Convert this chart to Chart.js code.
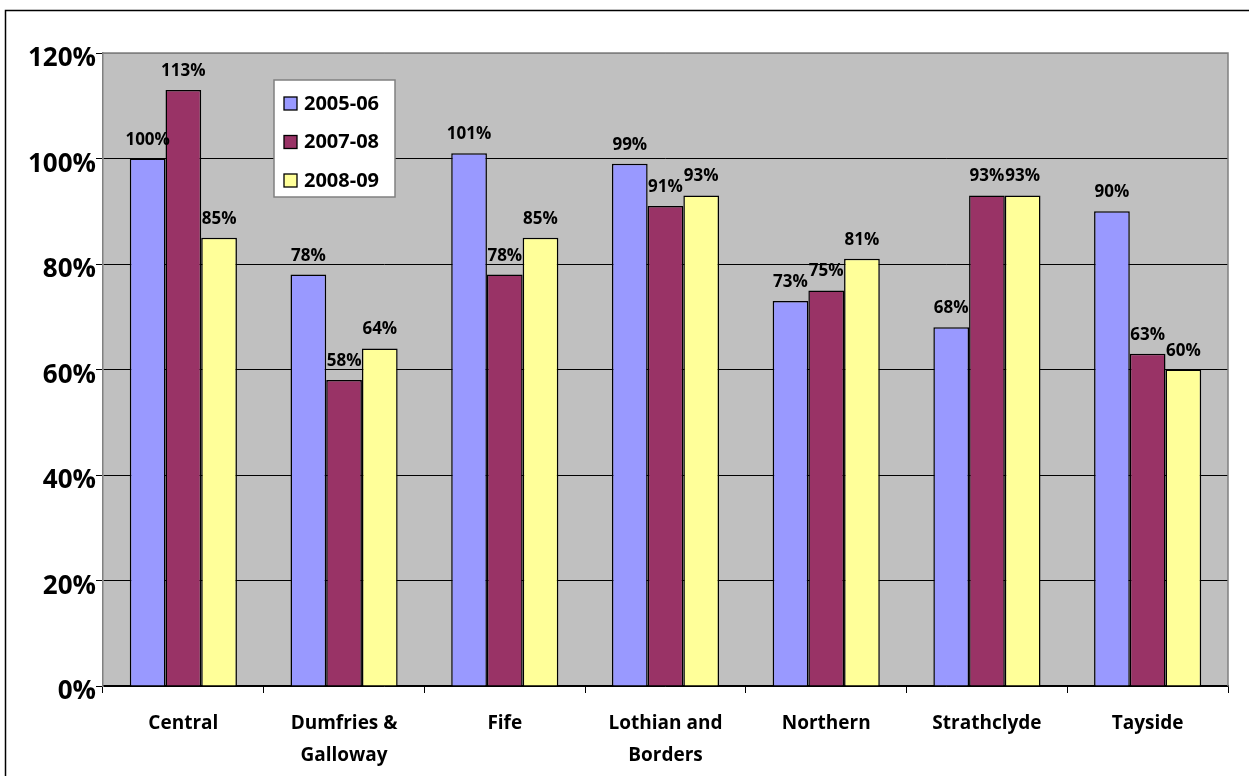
<!DOCTYPE html>
<html>
<head>
<meta charset="utf-8">
<script src="https://cdn.jsdelivr.net/npm/chart.js@4.4.1/dist/chart.umd.min.js"></script>
<style>
  html, body { margin: 0; padding: 0; background: #fff; }
  canvas { display: block; }
</style>
</head>
<body>
<canvas id="c" width="1249" height="776"></canvas>
<script>
// Regions and yearly percentages
const regions = ["Central", ["Dumfries &", "Galloway"], "Fife", ["Lothian and", "Borders"], "Northern", "Strathclyde", "Tayside"];
const seriesNames = ["2005-06", "2007-08", "2008-09"];
const values0506 = [100, 78, 101, 99, 73, 68, 90];
const values0708 = [113, 58, 78, 91, 75, 93, 63];
const values0809 = [85, 64, 85, 93, 81, 93, 60];
const yTicks = [0, 20, 40, 60, 80, 100, 120];

const FONT = "'Open Sans', Lato, sans-serif";
const colors = ["#9999FF", "#993366", "#FFFF99"];
const seriesValues = [values0506, values0708, values0809];

// Frame lines, grey plot background and top/right plot border
const framePlugin = {
  id: "frame",
  beforeDraw(chart) {
    const ctx = chart.ctx, a = chart.chartArea;
    ctx.save();
    ctx.fillStyle = "#fff";
    ctx.fillRect(0, 0, chart.width, chart.height);
    ctx.strokeStyle = "#000";
    ctx.lineWidth = 1.5;
    ctx.beginPath();
    ctx.moveTo(5.5, chart.height + 5);
    ctx.lineTo(5.5, 10.5);
    ctx.lineTo(chart.width + 5, 10.5);
    ctx.stroke();
    ctx.fillStyle = "#C0C0C0";
    ctx.fillRect(a.left, a.top, a.right - a.left, a.bottom - a.top);
    ctx.restore();
  },
  afterDraw(chart) {
    const ctx = chart.ctx, a = chart.chartArea;
    ctx.save();
    ctx.strokeStyle = "#808080";
    ctx.lineWidth = 1.5;
    ctx.beginPath();
    ctx.moveTo(a.left, a.top);
    ctx.lineTo(a.right, a.top);
    ctx.lineTo(a.right, a.bottom);
    ctx.stroke();
    ctx.restore();
  }
};

// Value labels above each bar
const valueLabels = {
  id: "valueLabels",
  afterDatasetsDraw(chart) {
    const ctx = chart.ctx;
    ctx.save();
    ctx.font = "bold 17px " + FONT;
    ctx.fillStyle = "#000";
    ctx.textAlign = "center";
    ctx.textBaseline = "alphabetic";
    chart.data.datasets.forEach((ds, i) => {
      chart.getDatasetMeta(i).data.forEach((el, j) => {
        ctx.fillText(ds.data[j] + "%", el.x, el.y - 14);
      });
    });
    ctx.restore();
  }
};

// Boxed legend inside the plot area
const boxLegend = {
  id: "boxLegend",
  afterDraw(chart) {
    const ctx = chart.ctx, a = chart.chartArea;
    const x = a.left + 171, y = a.top + 27, w = 121, h = 117;
    ctx.save();
    ctx.fillStyle = "#fff";
    ctx.fillRect(x, y, w, h);
    ctx.strokeStyle = "#808080";
    ctx.lineWidth = 1.5;
    ctx.strokeRect(x, y, w, h);
    ctx.font = "bold 20px " + FONT;
    ctx.textBaseline = "middle";
    ctx.textAlign = "left";
    chart.data.datasets.forEach((ds, i) => {
      const cy = y + 23 + i * 38.5;
      ctx.fillStyle = ds.backgroundColor;
      ctx.fillRect(x + 10, cy - 6, 13, 13);
      ctx.strokeStyle = "#000";
      ctx.lineWidth = 1.3;
      ctx.strokeRect(x + 10, cy - 6, 13, 13);
      ctx.fillStyle = "#000";
      ctx.fillText(ds.label, x + 30, cy + 1);
    });
    ctx.restore();
  }
};

new Chart(document.getElementById("c"), {
  type: "bar",
  data: {
    labels: regions,
    datasets: seriesNames.map((name, i) => ({
      label: name,
      data: seriesValues[i],
      backgroundColor: colors[i],
      borderColor: "#000",
      borderWidth: 1.5,
      borderSkipped: "bottom",
      categoryPercentage: 3 / 4.5,
      barPercentage: 1
    }))
  },
  options: {
    responsive: false,
    animation: false,
    layout: { padding: { left: 0, top: 53, right: 21, bottom: 0 } },
    plugins: { legend: { display: false }, tooltip: { enabled: false } },
    scales: {
      x: {
        afterFit(scale) { scale.height = 90; },
        grid: {
          offset: true,
          drawOnChartArea: false,
          color: "#000",
          tickLength: 7,
          lineWidth: 1
        },
        border: { color: "#000", width: 1.5 },
        ticks: {
          color: "#000",
          padding: 14,
          maxRotation: 0,
          autoSkip: false,
          font: { family: FONT, size: 19, weight: "bold", lineHeight: 1.7 }
        }
      },
      y: {
        min: 0,
        max: 120,
        afterFit(scale) { scale.width = 103; },
        afterBuildTicks(scale) { scale.ticks = yTicks.map(v => ({ value: v })); },
        grid: {
          color: ctx => (ctx.tick && ctx.tick.value === 120 ? "#808080" : "#000"),
          tickColor: "#000",
          tickLength: 7,
          lineWidth: 1
        },
        border: { color: "#808080", width: 1.5 },
        ticks: {
          color: "#000",
          padding: 0,
          labelOffset: 6,
          font: { family: FONT, size: 26, weight: "bold" },
          callback: v => v + "%"
        }
      }
    }
  },
  plugins: [framePlugin, valueLabels, boxLegend]
});
</script>
</body>
</html>
